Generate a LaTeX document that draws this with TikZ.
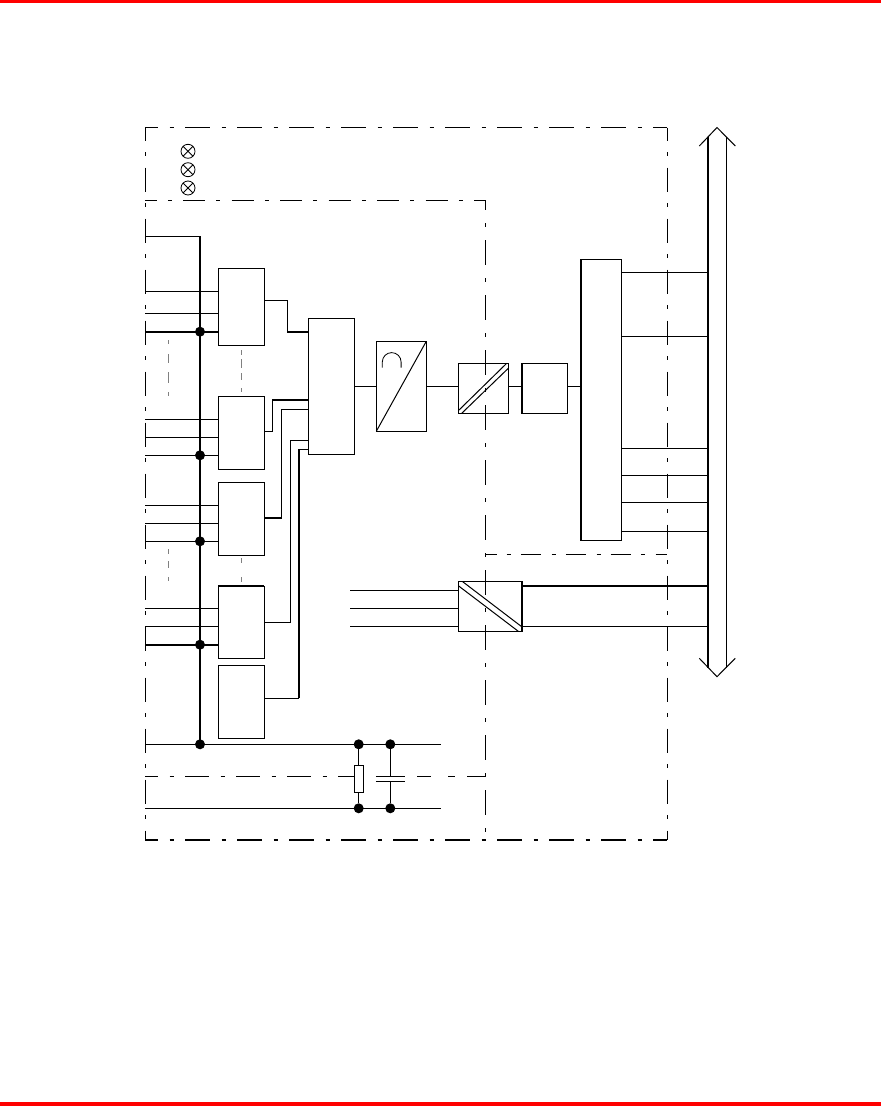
\documentclass[tikz,border=0pt]{standalone}
\usetikzlibrary{positioning,calc}

\begin{document}
\begin{tikzpicture}[
  x=1pt, y=-1pt,
  line width=1pt,
  blk/.style={draw, minimum width=46pt, inner sep=0pt, outer sep=0pt},
  hv/.style={line width=2.2pt},
  dotn/.style={circle, fill, inner sep=0pt, outer sep=0pt, minimum size=10pt},
  lampn/.style={draw, circle, inner sep=0pt, outer sep=0pt, minimum size=14pt, line width=0.8pt},
  ddash/.style 2 args={dash pattern=on #1pt off #2pt on 4pt off #2pt},
  faint/.style={gray, line width=0.6pt}
]
\useasboundingbox (0,0) rectangle (881,1106);

% Red rules top and bottom
\fill[red] (0,0) rectangle (881,3);
\fill[red] (0,1102) rectangle (881,1106);

% Enclosures
\draw[ddash={25}{11.5}, dash phase=12pt] (145,127.5) -- (667.3,127.5);
\draw[ddash={24}{11.5}, dash phase=11pt] (145.3,127.5) -- (145.3,840);
\draw[ddash={24}{11.5}, dash phase=11pt] (667.3,127.5) -- (667.3,840);
\draw[ddash={25}{11.5}, dash phase=12pt, line width=1.5pt] (145,840) -- (667.3,840);
\draw[ddash={22}{11.25}, dash phase=10.5pt] (145,200.3) -- (486,200.3);
\draw[ddash={25}{13}, dash phase=15pt] (485.7,200.3) -- (485.7,840);
\draw[ddash={20.5}{10.2}, dash phase=9.7pt] (485.7,554.3) -- (667.3,554.3);
\draw[ddash={24}{11.5}, dash phase=11pt] (145,776.3) -- (354,776.3);
\draw[dash pattern=on 14pt off 17pt on 7pt off 12pt on 19pt off 10pt] (417,776.3) -- (486,776.3);

% Lamps
\foreach \n/\y in {a/151.3,b/169.7,c/188} {
  \node[lampn] (lamp\n) at (188,\y) {};
  \draw[line width=0.8pt] (lamp\n.north east) -- (lamp\n.south west);
  \draw[line width=0.8pt] (lamp\n.north west) -- (lamp\n.south east);
}

% Blocks
\node[blk, minimum height=77pt] (blka) at (241,306.8) {};
\node[blk, minimum height=73pt] (blkb) at (241,432.8) {};
\node[blk, minimum height=73pt] (blkc) at (241,518.8) {};
\node[blk, minimum height=72.3pt] (blkd) at (241,622.2) {};
\node[blk, minimum height=73pt] (blke) at (241,701.8) {};
\node[blk, minimum height=136pt] (mux) at (331.3,386.3) {};
\node[blk, minimum width=50pt, minimum height=90pt] (adc) at (401.3,386.3) {};
\node[blk, minimum width=50pt, minimum height=50pt] (iso) at (483.3,388.3) {};
\node[blk, minimum width=45.6pt, minimum height=50pt] (cpu) at (544.5,388.3) {};
\node[blk, minimum width=40.7pt, minimum height=280.7pt] (ctl) at (601.3,399.7) {};
\node[blk, minimum width=63.7pt, minimum height=49.6pt] (isob) at (490.2,606.5) {};
\draw[hv] (blkd.north west) -- (blkd.north east);
\draw[hv] (cpu.north west) -- (cpu.south west);
\draw[hv] (ctl.north west) -- (ctl.south west);
\draw[hv] (isob.north east) -- (isob.south east);

% Block symbols
\draw (adc.south west) -- (adc.north east);
\draw[line width=0.8pt] (382.3,367.7) -- (382.3,362) arc[start angle=180, end angle=0, radius=9.4pt] -- (401.1,367.7);
\draw (458.3,410.7) -- (506.7,363.3);
\draw (461.7,413.3) -- (508.3,368.3);
\draw (462.7,581.7) -- (521.7,626.7);
\draw (458.3,585.7) -- (518.3,631.3);

% Free ends
\coordinate (lft) at (145.3,0);
\coordinate (rail) at (200,0);
\coordinate (inp) at (350,0);
\coordinate (rend) at (441,0);
\coordinate (buswest) at (708,0);
\coordinate (buseast) at (726,0);

% Supply rail and inputs
\draw[hv] (rail |- 0,236.3) -- (rail |- 0,744.3);
\draw (lft |- 0,236.3) -- (rail |- 0,236.3);
\foreach \b/\y in {blka/291.3,blka/313.3,blkb/419.3,blkb/437.3,blkb/455.3,blkc/505.3,blkc/523.3,blkc/541.3,blkd/608.3,blkd/626.3}
  \draw (lft |- 0,\y) -- (\b.west |- 0,\y);
\draw[hv] (lft |- 0,331.7) -- (blka.west |- 0,331.7);
\draw[hv] (lft |- 0,644.7) -- (blkd.west |- 0,644.7);
\draw (lft |- 0,744.3) -- (rend |- 0,744.3);
\draw (lft |- 0,808.3) -- (rend |- 0,808.3);

% Junction dots
\foreach \n/\x/\y in {ja/200/331.7,jb/200/455.3,jc/200/541.3,jd/200/644.7,je/200/744.3,
    jf/358.7/744.3,jg/390.3/744.3,jh/358.7/808.3,ji/390.3/808.3}
  \node[dotn] (\n) at (\x,\y) {};

% Resistor and capacitor
\node[draw, fill=white, inner sep=0pt, outer sep=0pt, minimum width=9.4pt, minimum height=27pt] (res) at (359,778.5) {};
\draw (jf) -- (res.north -| jf);
\draw (res.south -| jh) -- (jh);
\coordinate (capt) at (390.3,776.5);
\coordinate (capb) at (390.3,781.3);
\draw (jg) -- (capt);
\draw (capb) -- (ji);
\draw ($(capt)+(-14.5,0)$) -- ($(capt)+(14.5,0)$);
\draw ($(capb)+(-14.5,0)$) -- ($(capb)+(14.5,0)$);

% Block outputs to multiplexer
\draw (blka.east |- 0,300) -| (287,331.7);
\draw[hv] (287,331.7) -- (mux.west |- 0,331.7);
\draw (blkb.east |- 0,431.3) -| (272,400);
\draw[hv] (272,400) -- (mux.west |- 0,400);
\draw[hv] (blkc.east |- 0,518) -- (281.7,518);
\draw (281.7,518) |- (mux.west |- 0,409.5);
\draw (blkd.east |- 0,622.3) -| (290.3,440.3) -- (mux.west |- 0,440.3);
\draw (blke.east |- 0,698.3) -- (299,698.3);
\draw[hv] (299,698.3) -- (299,449);
\draw (299,449) -- (mux.west |- 0,449);

% Signal chain
\draw (mux.east |- adc.west) -- (adc.west);
\draw (adc.east) -- (iso.west |- adc.east);
\draw (iso.east |- adc.east) -- (cpu.west |- adc.east);
\draw (cpu.east |- adc.east) -- (ctl.west |- adc.east);

% Isolated inputs and bus taps
\foreach \y in {590.3,608.3,626.3}
  \draw (inp |- 0,\y) -- (isob.west |- 0,\y);
\foreach \y in {272.3,336.3,448.3,475.3,502.3,531.3}
  \draw (ctl.east |- 0,\y) -- (buswest |- 0,\y);
\draw[hv] (isob.east |- 0,586) -- (buswest |- 0,586);
\draw (isob.east |- 0,626.3) -- (buswest |- 0,626.3);

% Bus
\draw[hv] (buswest |- 0,137) -- (buswest |- 0,668);
\draw (buseast |- 0,137) -- (buseast |- 0,668);
\draw (699.3,146) -- (717,127.5) -- (735.3,146);
\draw (699.3,658.3) -- (717,676.7) -- (735.3,658.3);

% Faint traces between blocks
\foreach \x/\a/\b in {168/340/344,168/354/363,168/372/383,168/392/396,168/549/554,168/561/568,168/577/581,
    241/350/355,241/359/368,241/373/380,241/388/392,241/558/563,241/577/582}
  \draw[faint] (\x,\a) -- (\x,\b);
\end{tikzpicture}
\end{document}
